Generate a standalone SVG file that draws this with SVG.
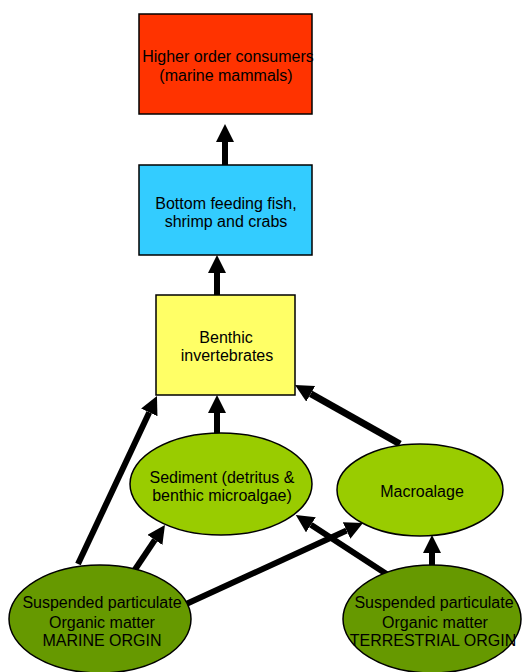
<svg xmlns="http://www.w3.org/2000/svg" width="528" height="672" viewBox="0 0 528 672">
<defs>
<style>
.box{stroke:#000;stroke-width:1.5}
.t{font-family:"Liberation Sans",Arial,sans-serif;font-size:16px;fill:#000;text-anchor:middle}
.c{stroke:#000;stroke-width:6;fill:none;marker-end:url(#ah)}
</style>
<marker id="ah" markerUnits="userSpaceOnUse" markerWidth="20" markerHeight="20" refX="0" refY="9" orient="auto" viewBox="0 0 20 20">
<path d="M0,0 L18,9 L0,18 z" fill="#000"/>
</marker>
</defs>
<rect width="528" height="672" fill="#fff"/>
<g id="connectors">
<line class="c" x1="225" y1="165" x2="225" y2="142"/>
<line class="c" x1="217" y1="295" x2="217" y2="273"/>
<line class="c" x1="217" y1="434" x2="217" y2="413"/>
<line class="c" x1="400" y1="444" x2="310.7" y2="393.8" style="stroke-width:7"/>
<line class="c" x1="78" y1="564" x2="149.3" y2="412.3"/>
<line class="c" x1="132" y1="574" x2="154.9" y2="539.9"/>
<line class="c" x1="184" y1="605" x2="346.6" y2="530.5"/>
<line class="c" x1="388" y1="575" x2="310.9" y2="524.8"/>
<line class="c" x1="432" y1="565" x2="432" y2="553"/>
</g>
<g id="higher">
<rect class="box" x="139" y="14" width="173" height="100" fill="#FF3300"/>
<text class="t" x="228" y="62">Higher order consumers</text>
<text class="t" x="226" y="81">(marine mammals)</text>
</g>
<g id="fish">
<rect class="box" x="139" y="165" width="173" height="90" fill="#33CCFF"/>
<text class="t" x="226" y="209">Bottom feeding fish,</text>
<text class="t" x="226" y="227">shrimp and crabs</text>
</g>
<g id="benthic">
<rect class="box" x="156" y="295" width="139" height="100" fill="#FFFF66"/>
<text class="t" x="226" y="343">Benthic</text>
<text class="t" x="227" y="361">invertebrates</text>
</g>
<g id="sediment">
<ellipse class="box" cx="221" cy="484" rx="91" ry="51" fill="#99CC00"/>
<text class="t" x="222" y="483">Sediment (detritus &amp;</text>
<text class="t" x="222" y="501">benthic microalgae)</text>
</g>
<g id="macroalage">
<ellipse class="box" cx="420" cy="490" rx="83" ry="46" fill="#99CC00"/>
<text class="t" x="422" y="497">Macroalage</text>
</g>
<g id="marine">
<ellipse class="box" cx="100" cy="619" rx="91" ry="54" fill="#669900"/>
<text class="t" x="102" y="608">Suspended particulate</text>
<text class="t" x="102" y="628">Organic matter</text>
<text class="t" x="102" y="646">MARINE ORGIN</text>
</g>
<g id="terrestrial">
<ellipse class="box" cx="432" cy="619" rx="89" ry="54" fill="#669900"/>
<text class="t" x="434" y="608">Suspended particulate</text>
<text class="t" x="435" y="628">Organic matter</text>
<text class="t" x="433" y="646">TERRESTRIAL ORGIN</text>
</g>
</svg>
